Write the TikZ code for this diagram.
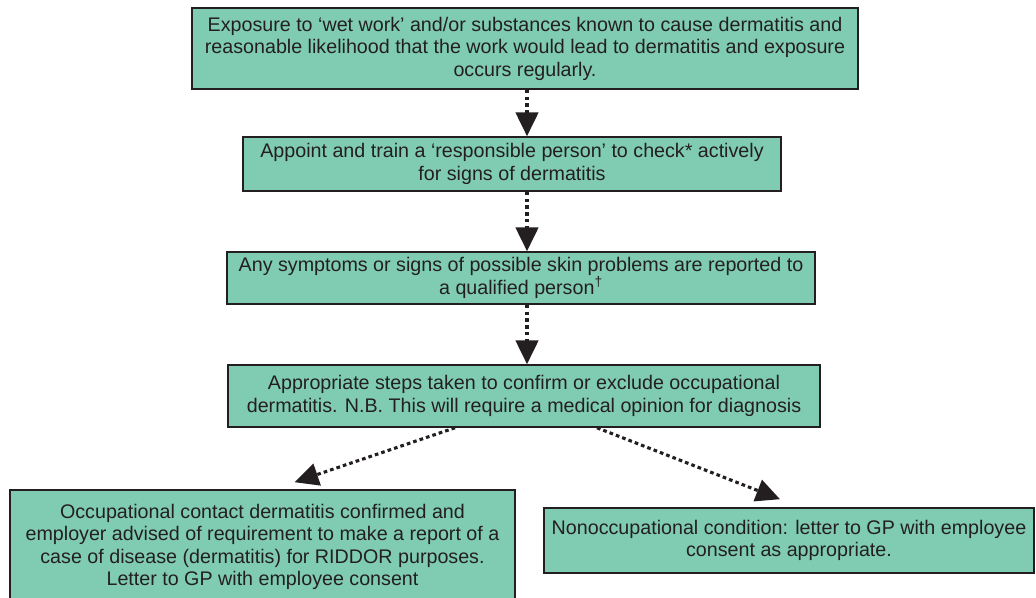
\documentclass[tikz,border=0pt]{standalone}
\usepackage{fontspec}
\setmainfont{Liberation Sans}
\usetikzlibrary{arrows.meta,calc}
\definecolor{boxgreen}{HTML}{80CCB3}
\definecolor{inkgrey}{HTML}{231F20}
\tikzset{
	stepbox/.style={draw=inkgrey, line width=1.1pt, fill=boxgreen, align=center, text=inkgrey, inner sep=0pt, font=\fontsize{14}{16}\selectfont},
	flow/.style={-{Triangle[length=17pt,width=16pt]}, line width=2.2pt, dash pattern=on 2.6pt off 2.2pt, inkgrey}
}
\begin{document}
\begin{tikzpicture}[x=0.025cm,y=-0.025cm]
		\useasboundingbox (0,0) rectangle (1036,597);
		\coordinate (spine) at (527,0);
		\node[stepbox, minimum width=666*0.025cm, minimum height=81*0.025cm] (expo) at (525,48.5) {Exposure to ‘wet work’ and/or substances known to cause dermatitis and\\ reasonable likelihood that the work would lead to dermatitis and exposure\\ occurs regularly.};
		\node[stepbox, minimum width=538*0.025cm, minimum height=54*0.025cm] (train) at (512,164) {Appoint and train a ‘responsible person’ to check* actively\\ for signs of dermatitis};
		\node[stepbox, minimum width=588*0.025cm, minimum height=52*0.025cm] (report) at (521,278) {Any symptoms or signs of possible skin problems are reported to\\ a qualified person\textsuperscript{†}};
		\node[stepbox, minimum width=592*0.025cm, minimum height=62*0.025cm] (confirm) at (524,396) {Appropriate steps taken to confirm or exclude occupational\\ dermatitis. N.B. This will require a medical opinion for diagnosis};
		\node[stepbox, minimum width=505*0.025cm, minimum height=114*0.025cm] (occup) at (262.5,547) {Occupational contact dermatitis confirmed and\\ employer advised of requirement to make a report of a\\ case of disease (dermatitis) for RIDDOR purposes.\\ Letter to GP with employee consent};
		\node[stepbox, minimum width=490*0.025cm, minimum height=65*0.025cm] (nonoccup) at (789,540.5) {Nonoccupational condition: letter to GP with employee\\ consent as appropriate.};

		% arrows down the chain
		\draw[flow] (expo.south -| spine) -- (train.north -| spine);
		\draw[flow] (train.south -| spine) -- (report.north -| spine);
		\draw[flow] (report.south -| spine) -- (confirm.north -| spine);
		% the two outcomes
		\draw[flow] ($(confirm.south)+(-69,0)$) -- ($(occup.north)+(32,-7)$);
		\draw[flow] ($(confirm.south)+(73,0)$) -- ($(nonoccup.north)+(-9,-8)$);
\end{tikzpicture}
\end{document}
